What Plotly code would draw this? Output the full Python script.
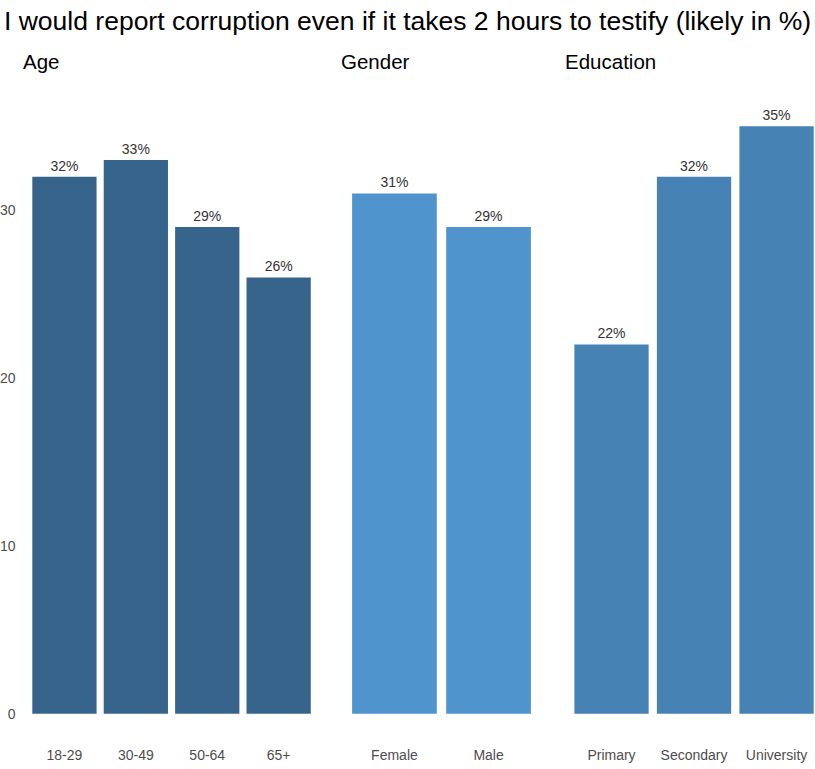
import plotly.graph_objects as go

W, H = 815, 769

age_cats = ["18-29", "30-49", "50-64", "65+"]
age_vals = [32, 33, 29, 26]
gender_cats = ["Female", "Male"]
gender_vals = [31, 29]
edu_cats = ["Primary", "Secondary", "University"]
edu_vals = [22, 32, 35]

title = "I would report corruption even if it takes 2 hours to testify (likely in %)"
panel_titles = ["Age", "Gender", "Education"]
y_ticks = [0, 10, 20, 30]

colors = ["#36648B", "#4F94CD", "#4682B4"]
FONT = "Liberation Sans, Arial, sans-serif"

T, B = 97, 26
PH = H - T - B


def ypaper(py):
    return (H - B - py) / PH


fig = go.Figure()
groups = [(age_cats, age_vals), (gender_cats, gender_vals), (edu_cats, edu_vals)]
for i, (cats, vals) in enumerate(groups):
    sfx = "" if i == 0 else str(i + 1)
    fig.add_trace(go.Bar(
        x=cats, y=vals, xaxis="x" + sfx, yaxis="y" + sfx,
        marker=dict(color=colors[i], line=dict(width=0)),
        width=0.9,
        text=[f"{v}%" for v in vals], textposition="outside",
        textfont=dict(size=14, color="#333333", family=FONT),
        cliponaxis=False, showlegend=False,
    ))

domains = [(21.6 / W, 321.5 / W), (338 / W, 545 / W), (562 / W, 1.0)]
xranges = [[-0.6, 3.6], [-0.6, 1.6], [-0.6, 2.6 - 11 / 82]]
yrange = [-1.75, 36.75]

layout = dict(
    width=W, height=H,
    margin=dict(l=0, r=0, t=T, b=B),
    plot_bgcolor="white", paper_bgcolor="white",
    font=dict(family=FONT),
)
for i in range(3):
    sfx = "" if i == 0 else str(i + 1)
    layout["xaxis" + sfx] = dict(
        domain=list(domains[i]), range=xranges[i], anchor="y" + sfx,
        showgrid=False, zeroline=False, showline=False, ticks="",
        tickfont=dict(size=14, color="#4D4D4D", family=FONT),
        ticklabelstandoff=2, automargin=False, fixedrange=True,
    )
    ya = dict(
        domain=[0, 1], range=yrange, anchor="x" + sfx,
        showgrid=False, zeroline=False, showline=False, ticks="",
        automargin=False,
    )
    if i == 0:
        ya.update(tickvals=y_ticks, ticktext=[str(t) for t in y_ticks],
                  tickfont=dict(size=14, color="#4D4D4D", family=FONT),
                  ticklabelstandoff=5)
    else:
        ya.update(showticklabels=False, matches="y")
    layout["yaxis" + sfx] = ya

annotations = [dict(
    text=title, x=2 / W, y=ypaper(21), xref="paper", yref="paper",
    xanchor="left", yanchor="middle", showarrow=False,
    font=dict(size=26.5, color="black", family=FONT),
)]
px_left = [21, 339, 563]
for t, xl in zip(panel_titles, px_left):
    annotations.append(dict(
        text=t, x=xl / W, y=ypaper(61), xref="paper", yref="paper",
        xanchor="left", yanchor="middle", showarrow=False,
        font=dict(size=20.5, color="black", family=FONT),
    ))
layout["annotations"] = annotations
fig.update_layout(**layout)
fig.update_yaxes(range=yrange)

fig.write_html(
    "out.html",
    config={"displayModeBar": False},
    post_script="document.body.style.margin='0';document.body.style.overflow='hidden';",
)
